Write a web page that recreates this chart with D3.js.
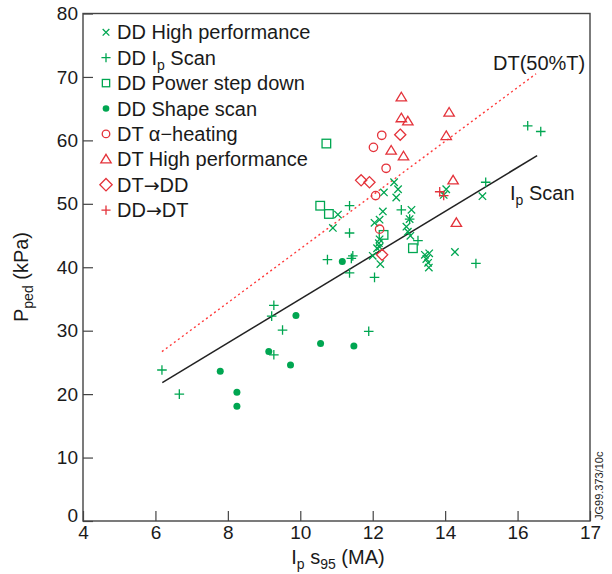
<!DOCTYPE html>
<html><head><meta charset="utf-8">
<script src="https://cdn.jsdelivr.net/npm/d3@7"></script>
<style>
body{margin:0;background:#fff}
svg{display:block}
text{font-family:"Liberation Sans",Arial,Helvetica,sans-serif;fill:#1a1a1a}
</style>
</head><body>
<svg id="c" width="612" height="574"></svg>
<script>
// ---- data ----
const xTickValues = [4, 6, 8, 10, 12, 14, 16, 18];
const xTickLabels = ["4", "6", "8", "10", "12", "14", "16", "17"];
const yTickValues = [0, 10, 20, 30, 40, 50, 60, 70, 80];

const ddHighPerf = [[12.59,53.4],[12.31,51.8],[12.70,52.3],[12.65,51.0],[12.28,48.8],[12.19,47.5],[12.05,47.0],[11.04,48.3],[10.90,46.2],[13.07,49.05],[13.02,47.6],[12.93,46.4],[12.97,45.6],[13.04,44.95],[12.19,44.4],[12.17,43.8],[12.19,43.2],[12.12,43.0],[12.0,41.8],[12.21,40.5],[13.44,41.96],[13.56,42.2],[13.48,41.3],[13.53,40.7],[13.55,39.95],[14.27,42.4],[15.03,51.2],[14.03,52.3],[13.96,51.4]];
const ddIpScan = [[6.18,23.8],[6.66,20.0],[9.27,34.0],[9.21,32.3],[9.51,30.1],[9.27,26.2],[11.89,29.9],[10.75,41.2],[11.36,49.7],[11.36,45.4],[11.45,41.8],[11.41,41.4],[11.36,39.1],[12.05,38.4],[12.79,49.05],[13.02,47.6],[13.25,44.2],[14.85,40.6],[15.12,53.4],[16.28,62.3],[16.64,61.4]];
const ddPowerStep = [[10.72,59.5],[10.55,49.7],[10.79,48.4],[12.30,45.1],[13.11,43.0]];
const ddShapeScan = [[7.79,23.6],[8.25,20.3],[8.25,18.1],[9.13,26.7],[9.88,32.4],[9.73,24.6],[10.56,28.0],[11.48,27.6],[11.16,40.9]];
const dtAlpha = [[12.25,60.8],[12.02,58.9],[12.37,55.6],[12.08,51.3],[12.19,46.0]];
const dtHighPerf = [[12.79,66.8],[12.79,63.5],[12.97,63.0],[14.11,64.4],[14.03,60.7],[12.51,58.4],[12.85,57.5],[14.22,53.7],[14.31,47.0]];
const dtToDd = [[12.76,60.9],[11.68,53.7],[11.91,53.4],[12.26,41.96]];
const ddToDt = [[13.85,51.9],[13.96,51.3]];

const ipScanLine = [[6.19,21.8],[16.54,57.6]];
const dt50Line = [[6.18,26.7],[16.51,70.5]];

// ---- layout ----
const GREEN = "#00a651", RED = "#e4323a", AXIS = "#444";
const svg = d3.select("#c");
const m = {left: 83, right: 590, top: 13.5, bottom: 521};
const x = d3.scaleLinear().domain([4, 18]).range([m.left, m.right]);
const y = d3.scaleLinear().domain([0, 80]).range([m.bottom, m.top]);

// axes
const xAxis = d3.axisBottom(x).tickValues(xTickValues)
  .tickFormat((d, i) => xTickLabels[i]).tickSizeInner(-10).tickSizeOuter(0).tickPadding(5);
const yAxis = d3.axisLeft(y).tickValues(yTickValues)
  .tickSizeInner(-10).tickSizeOuter(0).tickPadding(5);

const gx = svg.append("g").attr("transform", `translate(0,${m.bottom})`).call(xAxis);
const gy = svg.append("g").attr("transform", `translate(${m.left},0)`).call(yAxis);
[gx, gy].forEach(g => {
  g.select(".domain").remove();
  g.selectAll(".tick line").attr("stroke", AXIS).attr("stroke-width", 1.2);
  g.selectAll(".tick text").style("font-size", "19px").attr("fill", "#1a1a1a");
});
// the "0" label sits above the corner
gy.selectAll(".tick").filter(d => d === 0).select("text").attr("dy", "0.0em");

svg.append("rect").attr("x", m.left).attr("y", m.top)
  .attr("width", m.right - m.left).attr("height", m.bottom - m.top)
  .attr("fill", "none").attr("stroke", AXIS).attr("stroke-width", 1.4);

// lines
const line = d3.line().x(d => x(d[0])).y(d => y(d[1]));
svg.append("path").attr("d", line(dt50Line)).attr("fill", "none")
  .attr("stroke", "#ff3b3b").attr("stroke-width", 1.4).attr("stroke-dasharray", "2,3");
svg.append("path").attr("d", line(ipScanLine)).attr("fill", "none")
  .attr("stroke", "#222").attr("stroke-width", 1.5);

// marker drawers
function drawMarker(g, type, cx, cy, s) {
  s = s || 1;
  if (type === "x") {
    const r = 3.7 * s;
    g.append("path").attr("d", `M${cx-r},${cy-r}L${cx+r},${cy+r}M${cx-r},${cy+r}L${cx+r},${cy-r}`)
      .attr("stroke", GREEN).attr("stroke-width", 1.3).attr("fill", "none");
  } else if (type === "plus" || type === "plusRed") {
    const r = 4.8 * s;
    g.append("path").attr("d", `M${cx-r},${cy}L${cx+r},${cy}M${cx},${cy-r}L${cx},${cy+r}`)
      .attr("stroke", type === "plus" ? GREEN : RED).attr("stroke-width", 1.3).attr("fill", "none");
  } else if (type === "square") {
    const h = 4.3 * s;
    g.append("rect").attr("x", cx-h).attr("y", cy-h).attr("width", 2*h).attr("height", 2*h)
      .attr("fill", "none").attr("stroke", GREEN).attr("stroke-width", 1.3);
  } else if (type === "dot") {
    g.append("circle").attr("cx", cx).attr("cy", cy).attr("r", 3.5 * s).attr("fill", GREEN);
  } else if (type === "circle") {
    g.append("circle").attr("cx", cx).attr("cy", cy).attr("r", 4.2 * s)
      .attr("fill", "none").attr("stroke", RED).attr("stroke-width", 1.3);
  } else if (type === "tri") {
    const w = 5.2 * s;
    g.append("path").attr("d", `M${cx},${cy-5*s}L${cx+w},${cy+3.6*s}L${cx-w},${cy+3.6*s}Z`)
      .attr("fill", "none").attr("stroke", RED).attr("stroke-width", 1.3);
  } else if (type === "diamond") {
    const r = 5.6 * s;
    g.append("path").attr("d", `M${cx},${cy-r}L${cx+r},${cy}L${cx},${cy+r}L${cx-r},${cy}Z`)
      .attr("fill", "none").attr("stroke", RED).attr("stroke-width", 1.3);
  }
}

const series = [
  {data: ddHighPerf, type: "x"},
  {data: ddIpScan, type: "plus"},
  {data: ddPowerStep, type: "square"},
  {data: ddShapeScan, type: "dot"},
  {data: dtAlpha, type: "circle"},
  {data: dtHighPerf, type: "tri"},
  {data: dtToDd, type: "diamond"},
  {data: ddToDt, type: "plusRed"}
];
const gm = svg.append("g");
series.forEach(s => s.data.forEach(d => drawMarker(gm, s.type, x(d[0]), y(d[1]), 1)));

// legend
const legendItems = [
  {type: "x", parts: [["DD High performance"]], s: 0.9},
  {type: "plus", parts: [["DD I"], ["p", "sub"], [" Scan"]], s: 0.95},
  {type: "square", parts: [["DD Power step down"]], s: 0.85},
  {type: "dot", parts: [["DD Shape scan"]], s: 0.95},
  {type: "circle", parts: [["DT \u03b1\u2212heating"]], s: 0.9},
  {type: "tri", parts: [["DT High performance"]], s: 1.0},
  {type: "diamond", parts: [["DT"], ["\u2192", "arrow"], ["DD"]], s: 1.1},
  {type: "plusRed", parts: [["DD"], ["\u2192", "arrow"], ["DT"]], s: 0.95}
];
const gl = svg.append("g");
legendItems.forEach((it, i) => {
  const cy = 32.3 + i * 25.4;
  drawMarker(gl, it.type, 106, cy, it.s);
  const t = gl.append("text").attr("x", 117).attr("y", cy + 7).style("font-size", "20px");
  let lowered = false;
  it.parts.forEach(p => {
    const ts = t.append("tspan").text(p[0]);
    if (p[1] === "sub") { ts.style("font-size", "14px").attr("dy", 5); lowered = true; }
    else if (p[1] === "arrow") { ts.style("font-family", "'DejaVu Sans'").style("font-size", "19px"); }
    else if (lowered) { ts.attr("dy", -5); lowered = false; }
  });
});

// line labels
svg.append("text").attr("x", 493).attr("y", 70).style("font-size", "20px").text("DT(50%T)");
const ipl = svg.append("text").attr("x", 510).attr("y", 200).style("font-size", "20px");
ipl.append("tspan").text("I");
ipl.append("tspan").text("p").style("font-size", "14px").attr("dy", 5);
ipl.append("tspan").text(" Scan").attr("dy", -5);

// axis titles
const xt = svg.append("text").attr("x", 338).attr("y", 564).attr("text-anchor", "middle").style("font-size", "20px");
xt.append("tspan").text("I");
xt.append("tspan").text("p").style("font-size", "14px").attr("dy", 5);
xt.append("tspan").text(" s").attr("dy", -5);
xt.append("tspan").text("95").style("font-size", "14px").attr("dy", 5);
xt.append("tspan").text(" (MA)").attr("dy", -5);

const yt = svg.append("text").attr("transform", "translate(28,277) rotate(-90)")
  .attr("text-anchor", "middle").style("font-size", "20px");
yt.append("tspan").text("P");
yt.append("tspan").text("ped").style("font-size", "14px").attr("dy", 5);
yt.append("tspan").text(" (kPa)").attr("dy", -5);

svg.append("text").attr("transform", "translate(603,520) rotate(-90)")
  .style("font-size", "11px").text("JG99.373/10c");
</script>
</body></html>
